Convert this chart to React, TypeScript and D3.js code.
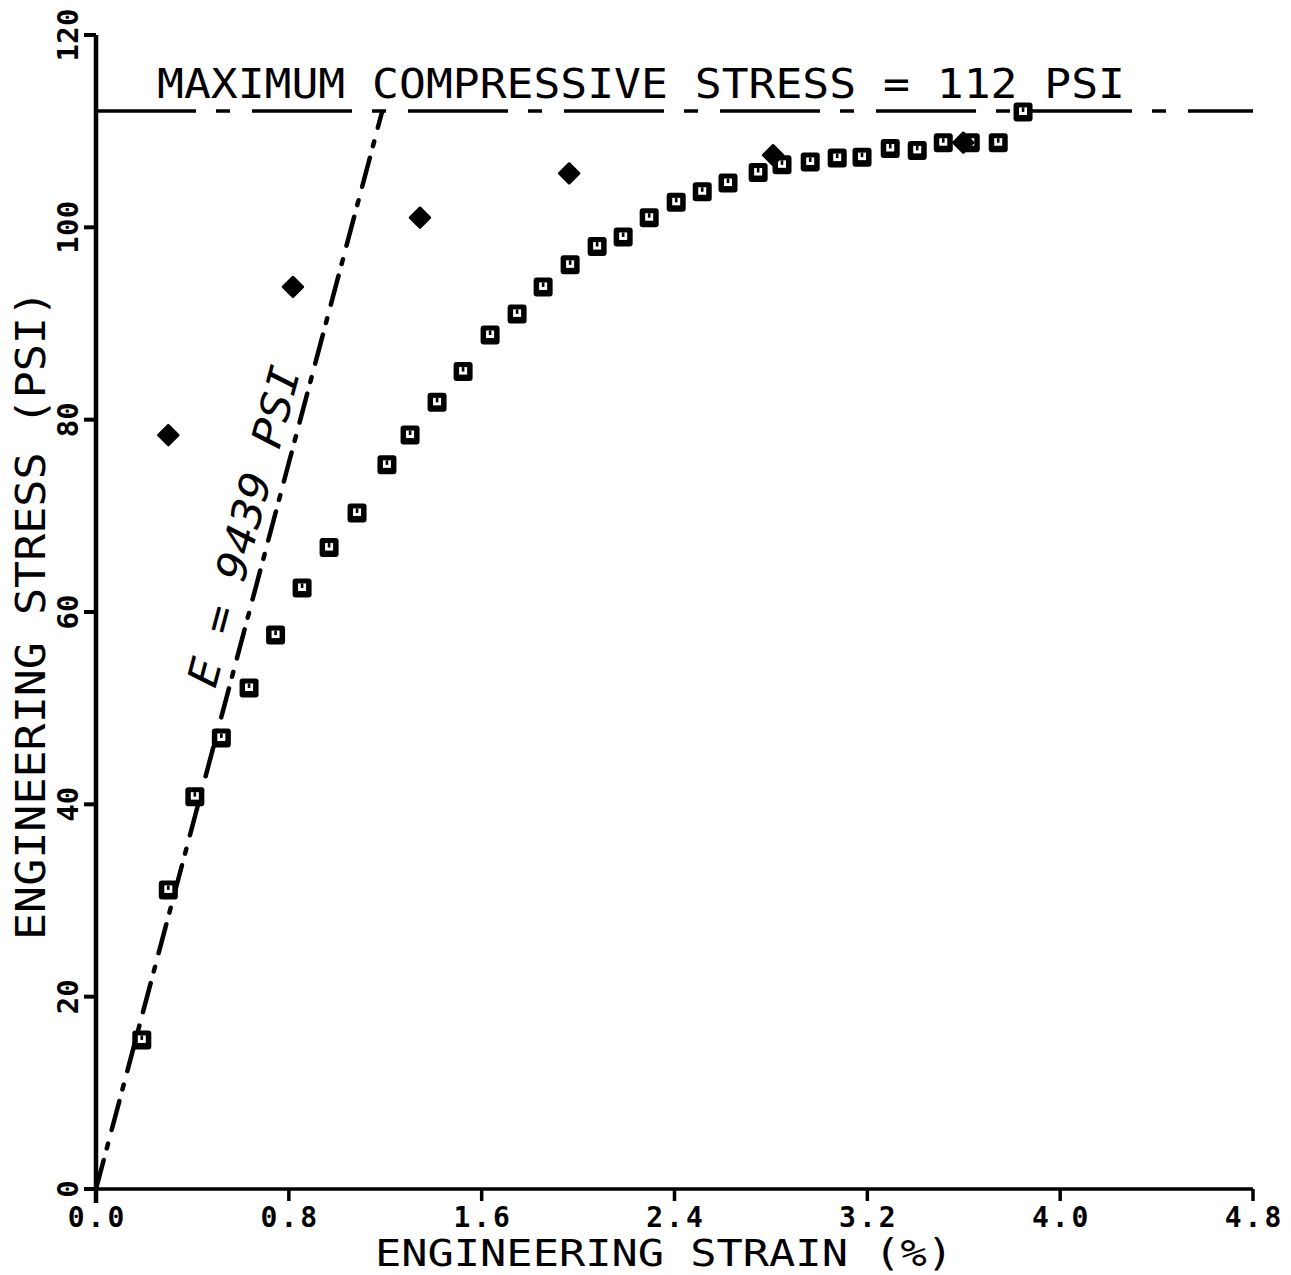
import React from "react";
import * as d3 from "d3";

const strainSquares = [0.19, 0.30, 0.41, 0.52, 0.635, 0.745, 0.855, 0.967, 1.083, 1.207, 1.303, 1.415, 1.523, 1.635, 1.747, 1.855, 1.967, 2.079, 2.187, 2.295, 2.407, 2.515, 2.622, 2.747, 2.846, 2.963, 3.075, 3.178, 3.295, 3.407, 3.515, 3.627, 3.743, 3.846];
const stressSquares = [15.5, 31.1, 40.8, 46.9, 52.1, 57.6, 62.5, 66.7, 70.3, 75.3, 78.4, 81.8, 85.0, 88.8, 91.0, 93.8, 96.1, 98.0, 99.0, 101.0, 102.6, 103.7, 104.6, 105.7, 106.5, 106.8, 107.2, 107.3, 108.2, 108.0, 108.8, 108.8, 108.8, 112.0];

const strainDiamonds = [0.30, 0.817, 1.344, 1.963, 2.809, 3.598];
const stressDiamonds = [78.4, 93.8, 101.0, 105.6, 107.5, 108.8];

const xTicks = [0, 0.8, 1.6, 2.4, 3.2, 4.0, 4.8];
const xTickLabels = ["0.0", "0.8", "1.6", "2.4", "3.2", "4.0", "4.8"];
const yTicks = [0, 20, 40, 60, 80, 100, 120];
const yTickLabels = ["0", "20", "40", "60", "80", "100", "120"];

const maxStress = 112;
const modulusPsi = 9439;

const xTitle = "ENGINEERING STRAIN (%)";
const yTitle = "ENGINEERING STRESS (PSI)";
const maxLabel = "MAXIMUM COMPRESSIVE STRESS = 112 PSI";
const modulusLabel = "E = 9439 PSI";

export default function App() {
  const W = 1291, H = 1275;
  const x = d3.scaleLinear().domain([0, 4.8]).range([96, 1253]);
  const y = d3.scaleLinear().domain([0, 120]).range([1189, 35]);
  const mono = "'DejaVu Sans Mono', monospace";

  const strainAtMax = (maxStress / modulusPsi) * 100;
  const modLine = d3.line<[number, number]>().x(d => x(d[0])).y(d => y(d[1]))([
    [0, 0],
    [strainAtMax, maxStress],
  ]);

  const squares = strainSquares.map((s, i) => [s, stressSquares[i]]);
  const diamonds = strainDiamonds.map((s, i) => [s, stressDiamonds[i]]);

  return (
    <svg width={W} height={H} style={{ position: "absolute", left: 0, top: 0, background: "#fff" }}>
      <rect x={0} y={0} width={W} height={H} fill="#fff" />
      {/* max stress dashed line */}
      <line x1={x(0)} x2={x(4.8)} y1={y(maxStress) - 1} y2={y(maxStress) - 1} stroke="#000" strokeWidth={3.5}
        strokeDasharray="100,20,14,22" />
      {/* modulus line */}
      <path d={modLine || ""} stroke="#000" strokeWidth={4.5} fill="none" strokeLinecap="round"
        strokeDasharray="30,12,5,14" />
      {/* axes */}
      <line x1={x(0)} x2={x(0)} y1={y(120)} y2={y(0) + 14} stroke="#000" strokeWidth={4.5} />
      <line x1={x(0) - 12} x2={x(4.8)} y1={y(0)} y2={y(0)} stroke="#000" strokeWidth={3.5} />
      {yTicks.map(t => (
        <line key={"yt" + t} x1={x(0) - 12} x2={x(0)} y1={y(t)} y2={y(t)} stroke="#000" strokeWidth={4} />
      ))}
      {xTicks.map(t => (
        <line key={"xt" + t} x1={x(t)} x2={x(t)} y1={y(0)} y2={y(0) + 12} stroke="#000" strokeWidth={3.5} />
      ))}
      {xTicks.map((t, i) => (
        <text key={"xl" + t} x={x(t)} y={1227} textAnchor="middle" fontFamily={mono} fontWeight="bold"
          fontSize={28} textLength={xTickLabels[i].length * 19.5 - 2} lengthAdjust="spacing">{xTickLabels[i]}</text>
      ))}
      {yTicks.map((t, i) => (
        <text key={"yl" + t} transform={`translate(78,${y(t)}) rotate(-90)`} textAnchor="middle" fontFamily={mono}
          fontWeight="bold" fontSize={29} textLength={yTickLabels[i].length * 18 - 1} lengthAdjust="spacing">{yTickLabels[i]}</text>
      ))}
      {/* titles */}
      <text x={664} y={1266} textAnchor="middle" fontFamily={mono} fontSize={37} textLength={578}
        lengthAdjust="spacingAndGlyphs">{xTitle}</text>
      <text transform={`translate(45,615) rotate(-90)`} textAnchor="middle" fontFamily={mono} fontSize={40}
        textLength={650} lengthAdjust="spacingAndGlyphs">{yTitle}</text>
      <text x={641} y={98} textAnchor="middle" fontFamily={mono} fontSize={40} textLength={968}
        lengthAdjust="spacingAndGlyphs">{maxLabel}</text>
      <text transform={`translate(258,530) rotate(-75)`} textAnchor="middle" fontFamily={mono} fontStyle="italic"
        fontSize={42} textLength={330} lengthAdjust="spacingAndGlyphs">{modulusLabel}</text>
      {/* squares */}
      {squares.map((d, i) => (
        <g key={"sq" + i} transform={`translate(${x(d[0])},${y(d[1])})`}>
          <rect x={-9.5} y={-9.5} width={19} height={19} rx={3} fill="#000" />
          <rect x={-4} y={-4.5} width={8} height={7.5} fill="#fff" />
          <rect x={-1.3} y={-4.5} width={2.6} height={4.5} fill="#000" />
        </g>
      ))}
      {/* diamonds */}
      {diamonds.map((d, i) => (
        <path key={"dm" + i} transform={`translate(${x(d[0])},${y(d[1])})`}
          d="M0,-10 L10,0 L0,10 L-10,0 Z" fill="#000" stroke="#000" strokeWidth={2.5} strokeLinejoin="round" />
      ))}
    </svg>
  );
}
